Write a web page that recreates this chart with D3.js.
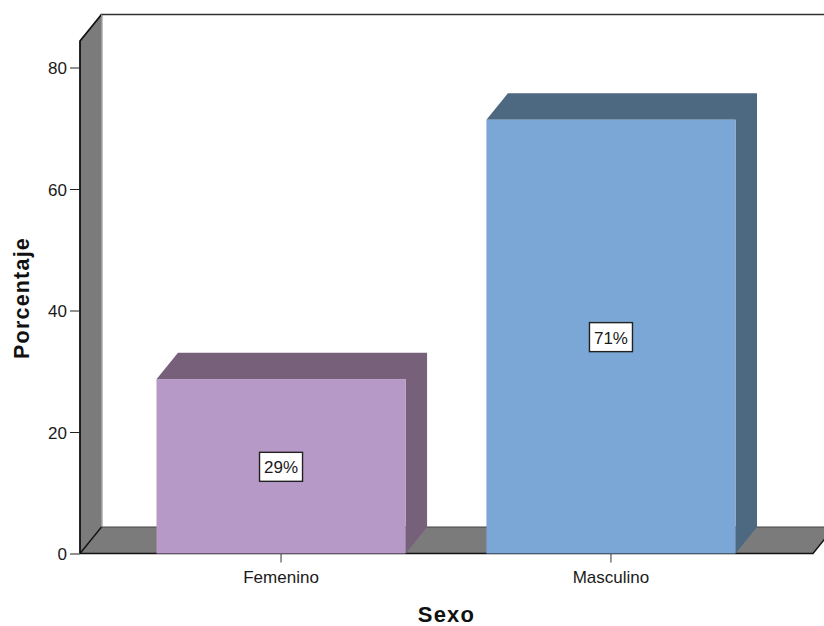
<!DOCTYPE html>
<html><head><meta charset="utf-8">
<script src="https://cdn.jsdelivr.net/npm/d3@7/dist/d3.min.js"></script>
<style>html,body{margin:0;padding:0;background:#fff}svg{display:block}text{font-family:"Liberation Sans",Arial,sans-serif;fill:#1a1a1a}</style>
</head><body><svg id="c" width="824" height="626"></svg>
<script>
const categories = ["Femenino", "Masculino"];
const percentages = [28.7, 71.4];
const labels = ["29%", "71%"];
const yTicks = [0, 20, 40, 60, 80];
const frontColors = ["#b699c7", "#7aa7d5"];
const topColors = ["#76607a", "#4d6981"];

const svg = d3.select("#c");
const depthX = 21.5, depthY = 26.5;
const y = d3.scaleLinear().domain([0, 80]).range([553.5, 67.5]);
const x = d3.scaleBand().domain(categories).range([116, 776]).paddingInner(0.245).paddingOuter(0.1227);
const left = 80, floorRight = 813, wallTop = 41;
const line = d3.line();
const wall = "#7b7b7b", ink = "#111";

// back wall outline
svg.append("path").attr("d", line([[left + depthX, y(0) - depthY], [left + depthX, wallTop - depthY], [824, wallTop - depthY]]))
  .attr("fill", "none").attr("stroke", "#333").attr("stroke-width", 1.6);
// side wall
svg.append("path").attr("d", line([[left, y(0)], [left, wallTop], [left + depthX, wallTop - depthY], [left + depthX, y(0) - depthY]]) + "Z")
  .attr("fill", wall).attr("stroke", "none");
svg.append("path").attr("d", line([[left, y(0)], [left, wallTop], [left + depthX, wallTop - depthY]]))
  .attr("fill", "none").attr("stroke", ink).attr("stroke-width", 1.8);
svg.append("line").attr("x1", left + depthX).attr("x2", left + depthX).attr("y1", wallTop - depthY).attr("y2", y(0) - depthY).attr("stroke", "#999").attr("stroke-width", 1);
// floor
svg.append("path").attr("d", line([[left, y(0)], [left + depthX, y(0) - depthY], [floorRight + depthX, y(0) - depthY], [floorRight, y(0)]]) + "Z")
  .attr("fill", wall).attr("stroke", "none");
svg.append("path").attr("d", line([[left, y(0)], [left + depthX, y(0) - depthY]])).attr("stroke", ink).attr("stroke-width", 1.4);
svg.append("path").attr("d", line([[left + depthX, y(0) - depthY], [floorRight + depthX, y(0) - depthY]])).attr("stroke", "#444").attr("stroke-width", 1);
svg.append("path").attr("d", line([[left, y(0)], [floorRight, y(0)], [floorRight + depthX, y(0) - depthY]])).attr("fill", "none").attr("stroke", ink).attr("stroke-width", 1.4);

// y axis
const yAxis = svg.append("g").attr("transform", `translate(${left},0)`).call(d3.axisLeft(y).tickValues(yTicks).tickSize(10).tickPadding(3).tickFormat(d3.format("d")));
yAxis.select(".domain").remove();
yAxis.selectAll("line").attr("stroke", "#222").attr("stroke-width", 1);
yAxis.selectAll("text").style("font-size", "17px").attr("dy", "0.38em");

// x axis
const xAxis = svg.append("g").attr("transform", `translate(0,${y(0)})`).call(d3.axisBottom(x).tickSize(9).tickPadding(8));
xAxis.select(".domain").remove();
xAxis.selectAll("line").attr("stroke", "#333").attr("stroke-width", 1);
xAxis.selectAll("text").style("font-size", "17px");

// bars
const bars = svg.append("g").selectAll("g").data(categories).join("g");
bars.append("path").attr("fill", (d, i) => topColors[i])
  .attr("d", (d, i) => {
    const a = x(d), b = a + x.bandwidth(), t = y(percentages[i]), o = y(0);
    return line([[a, t], [a + depthX, t - depthY], [b + depthX, t - depthY], [b + depthX, o - depthY], [b, o], [b, t]]) + "Z";
  });
bars.append("rect").attr("fill", (d, i) => frontColors[i])
  .attr("x", d => x(d)).attr("width", x.bandwidth())
  .attr("y", (d, i) => y(percentages[i])).attr("height", (d, i) => y(0) - y(percentages[i]));

// value labels
const cy = i => (y(percentages[i]) + y(0)) / 2 + 0.5;
bars.append("rect").attr("fill", "#fff").attr("stroke", "#222").attr("stroke-width", 1.4)
  .attr("x", d => x(d) + x.bandwidth() / 2 - 21.5).attr("width", 43)
  .attr("y", (d, i) => cy(i) - 14.5).attr("height", 29);
bars.append("text").text((d, i) => labels[i]).attr("text-anchor", "middle")
  .attr("x", d => x(d) + x.bandwidth() / 2).attr("y", (d, i) => cy(i) + 6.5)
  .style("font-size", "17px");

// axis titles
svg.append("text").text("Sexo").attr("x", 446.5).attr("y", 622).attr("text-anchor", "middle")
  .style("font-size", "22px").style("font-weight", "bold").style("letter-spacing", "1.2px").style("fill", "#111");
svg.append("text").text("Porcentaje").attr("transform", "translate(29,298) rotate(-90)").attr("text-anchor", "middle")
  .style("font-size", "21.5px").style("font-weight", "bold").style("letter-spacing", "1.2px").style("fill", "#111");
</script></body></html>
